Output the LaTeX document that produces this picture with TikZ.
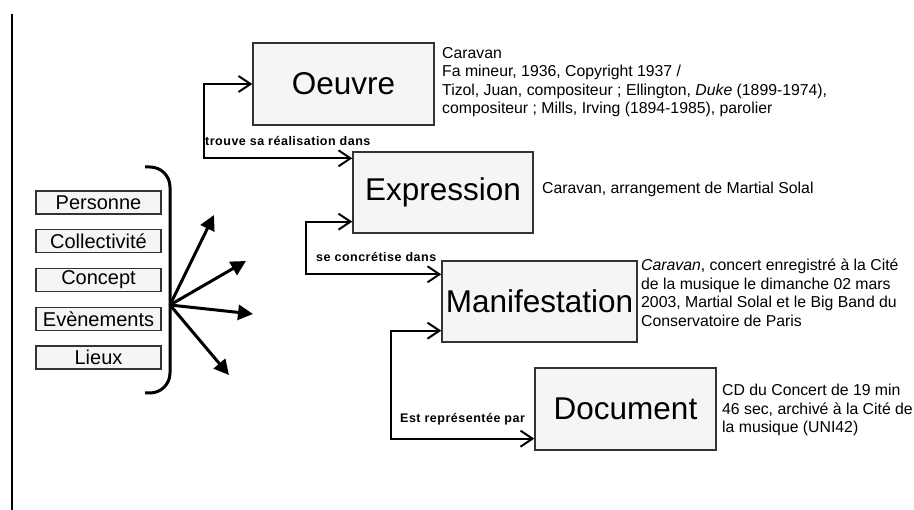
\documentclass[tikz,border=0pt]{standalone}
\usepackage{fontspec}
\setmainfont{Liberation Sans}
\usetikzlibrary{arrows.meta}
\newcommand{\relfont}{\fontsize{12.5}{14}\selectfont\bfseries\addfontfeatures{LetterSpace=4}}
\newcommand{\descfont}{\fontsize{15.8}{18.5}\selectfont}

\begin{document}
\begin{tikzpicture}[x=1pt, y=-1pt,
    level/.style={draw=black!80, fill=black!4, line width=1.4pt, inner sep=0pt,
      font=\fontsize{31.5}{33}\selectfont},
    entity/.style={draw=black!80, fill=black!4, line width=1.1pt, inner sep=0pt,
      minimum width=125pt, minimum height=23pt, font=\fontsize{20}{22}\selectfont},
    desc/.style={anchor=north west, align=left, inner sep=0pt, font=\descfont},
    rel/.style={anchor=west, inner sep=0pt, font=\relfont},
    link/.style={line width=2pt, {Straight Barb[length=12pt,width=16pt]}-{Straight Barb[length=12pt,width=16pt]}},
    fanarrow/.style={line width=3pt, -{Triangle[length=15pt,width=15pt]}}]
  \useasboundingbox (0,0) rectangle (914,510);
  \draw[line width=2pt] (12,14) -- (12,510);

  % les quatre niveaux
  \node[level, minimum width=181pt, minimum height=82pt] (oeuvre) at (343.5,84) {Oeuvre};
  \node[level, minimum width=180pt, minimum height=81pt] (expression) at (443,192.5) {Expression};
  \node[level, minimum width=195pt, minimum height=81pt] (manifestation) at (539.5,301.5) {Manifestation};
  \node[level, minimum width=181pt, minimum height=82pt] (document) at (625.5,409) {Document};

  % descriptions
  \node[desc] (descoeuvre) at (442,47) {Caravan\\
    Fa mineur, 1936, Copyright 1937 /\\
    Tizol, Juan, compositeur ; Ellington, \textit{Duke} (1899-1974),\\
    compositeur ; Mills, Irving (1894-1985), parolier};
  \node[desc, anchor=west] (descexpression) at (542,189) {Caravan, arrangement de Martial Solal};
  \node[desc] (descmanifestation) at (641,259) {\textit{Caravan}, concert enregistré à la Cité\\
    de la musique le dimanche 02 mars\\
    2003, Martial Solal et le Big Band du\\
    Conservatoire de Paris};
  \node[desc] (descdocument) at (722,384) {CD du Concert de 19 min\\
    46 sec, archivé à la Cité de\\
    la musique (UNI42)};

  % relations
  \draw[link] (oeuvre.west) -- ++(-48,0) |- ([yshift=-7pt]expression.north west);
  \draw[link] ([yshift=12pt]expression.south west) -- ++(-46,0) |- ([yshift=-14pt]manifestation.north west);
  \draw[link] ([yshift=12pt]manifestation.south west) -- ++(-50,0) |- ([yshift=12pt]document.south west);
  \node[rel] (rel1) at (205,141) {trouve sa réalisation dans};
  \node[rel] (rel2) at (316,257) {se concrétise dans};
  \node[rel] (rel3) at (400,419) {Est représentée par};

  % entites
  \node[entity] (personne) at (98.5,202.5) {Personne};
  \node[entity] (collectivite) at (98.5,241) {Collectivité};
  \node[entity] (concept) at (98.5,280) {Concept};
  \node[entity] (evenements) at (98.5,319) {Evènements};
  \node[entity] (lieux) at (98.5,357.5) {Lieux};
  \draw[line width=3pt, rounded corners=20pt] (145,167) -- (170,167) -- (170,393) -- (145,393);

  \coordinate (fan) at (170,305);
  \foreach \tx/\ty [count=\i] in {214/215, 246/261, 253/314, 229/375} {
    \coordinate (tip\i) at (\tx,\ty);
    \draw[fanarrow] (fan) -- (tip\i);
  }
\end{tikzpicture}
\end{document}
